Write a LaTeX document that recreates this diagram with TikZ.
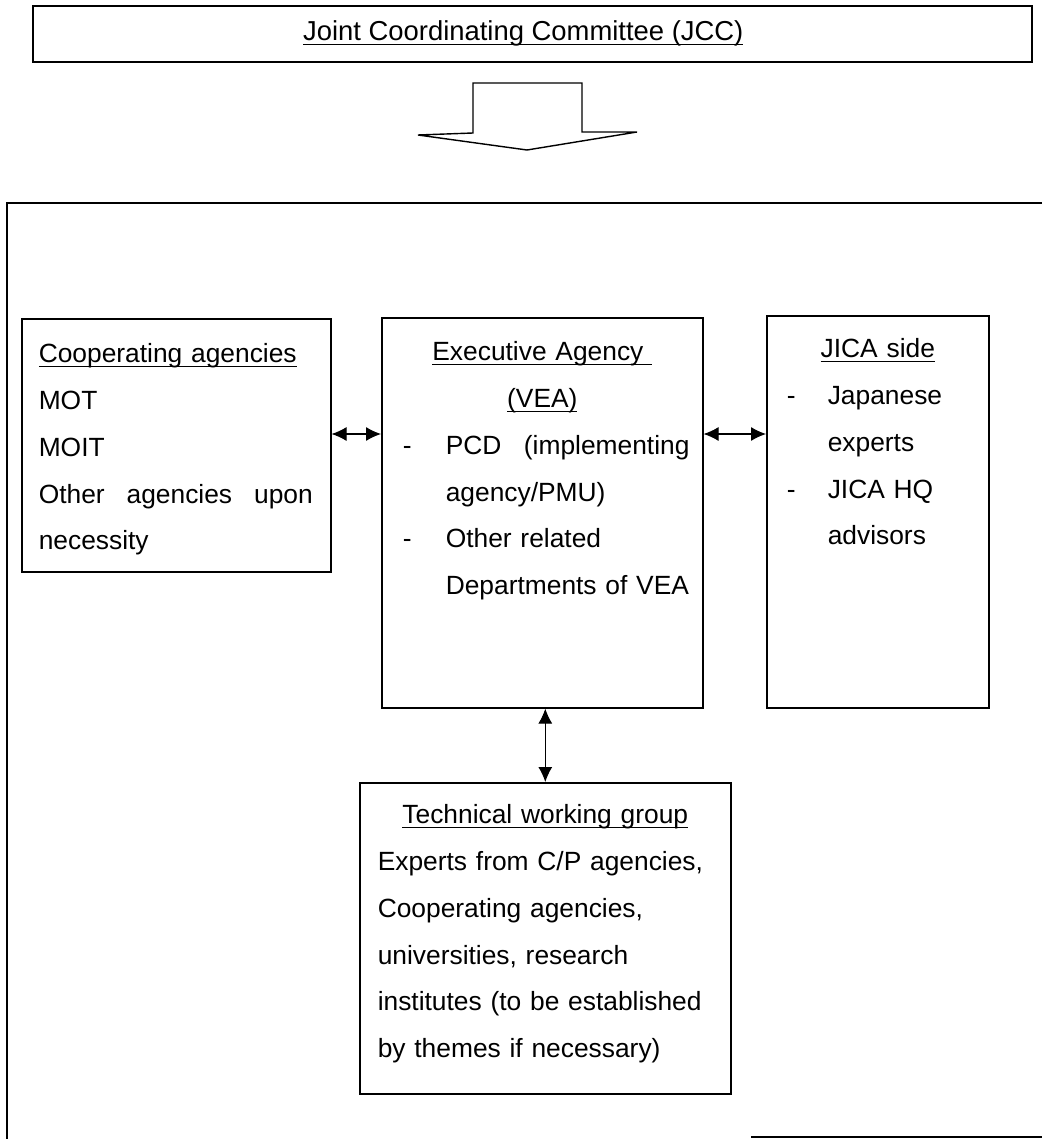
\documentclass[tikz,border=0pt]{standalone}
\usepackage{fontspec}
\setmainfont{Liberation Sans}
\usepackage{tikz}
\usetikzlibrary{arrows.meta}
\tikzstyle{box} = [
    rectangle,
    draw,
    line width=0.9pt,
    anchor=north west,
    inner ysep=0pt,
    align=left,
    % text height = top edge to first baseline
    font=\fontsize{15}{26.6}\selectfont
    ]
\tikzstyle{link} = [<->, line width=0.6pt]
\newsavebox{\undlbox}
\newcommand{\undl}[1]{\leavevmode\sbox{\undlbox}{#1}\rlap{\rule[-0.09cm]{\wd\undlbox}{0.8pt}}\usebox{\undlbox}}
\newcommand{\dashitem}[1]{\makebox[#1][l]{-}}

\begin{document}
\begin{tikzpicture}[>={Latex[length=3mm,width=2.8mm]}]
        \useasboundingbox (0,0) rectangle (20.84,-22.78);

        \node (jcc) [box, minimum width=19.98cm, text height=0.70cm, text depth=0.42cm, font=\fontsize{15.6}{20}\selectfont] at (0.64,-0.10) {\undl{Joint Coordinating Committee (JCC)}\hspace{0.36cm}};

        % big arrow
        \draw[line width=0.8pt] (9.46,-1.66) -- (11.64,-1.66) -- (11.64,-2.64) -- (12.74,-2.64) -- (10.54,-3.00) -- (8.36,-2.70) -- (9.46,-2.66) -- cycle;

        % frame
        \draw[line width=0.8pt] (20.84,-4.06) -- (0.14,-4.06) -- (0.14,-22.78);
        \draw[line width=0.8pt] (15.02,-22.74) -- (20.84,-22.74);

        \node (coop) [box, inner xsep=0.34cm, text width=5.50cm, text height=0.88cm, text depth=4.18cm] at (0.42,-6.36) {\undl{Cooperating agencies}\\
            MOT\\
            MOIT\\
            \leavevmode\hbox to 5.48cm{Other\hfill agencies\hfill upon}\\
            necessity};

        \node (exec) [box, inner xsep=0.42cm, text width=5.58cm, text height=0.86cm, text depth=6.94cm] at (7.62,-6.34) {{\centering\undl{Executive Agency\ }\\ \undl{(VEA)}\par}
            \mbox{\dashitem{0.86cm}PCD\hspace{0.45cm}(implementing}\\
            \hspace*{0.86cm}agency/PMU)\\
            \dashitem{0.86cm}Other related\\
            \mbox{\hspace*{0.86cm}Departments of VEA}};

        \node (jica) [box, inner xsep=0.40cm, text width=3.64cm, text height=0.84cm, text depth=7.00cm] at (15.32,-6.30) {{\centering\undl{JICA side}\par}
            \dashitem{0.82cm}Japanese\\
            \hspace*{0.82cm}experts\\
            \dashitem{0.82cm}JICA HQ\\
            \hspace*{0.82cm}advisors};

        \node (twg) [box, inner xsep=0.36cm, text width=6.70cm, text height=0.82cm, text depth=5.40cm] at (7.18,-15.64) {{\centering\undl{Technical working group}\par}
            Experts from C/P agencies,\\
            Cooperating agencies,\\
            universities, research\\
            institutes (to be established\\
            by themes if necessary)};

        % Lines
        \coordinate (row) at (0,-8.68);
        \draw[link] (coop.east |- row) -- (exec.west |- row);
        \draw[link] (exec.east |- row) -- (jica.west |- row);
        \draw[link] (exec.south -| twg.north) -- (twg.north);

    \end{tikzpicture}
\end{document}
